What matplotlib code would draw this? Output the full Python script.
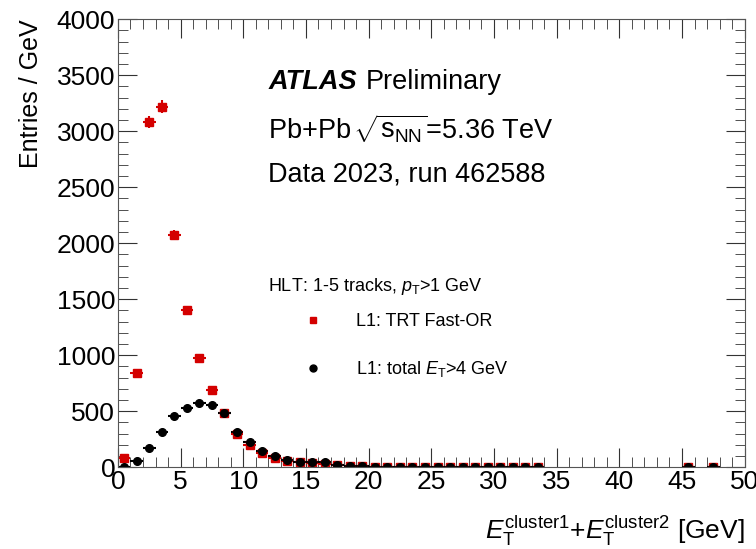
import numpy as np
import matplotlib
matplotlib.use("Agg")
import matplotlib.pyplot as plt
from matplotlib.lines import Line2D
from matplotlib.ticker import MultipleLocator

plt.rcParams['font.family'] = ['Liberation Sans', 'DejaVu Sans']
plt.rcParams['mathtext.fontset'] = 'custom'
plt.rcParams['mathtext.rm'] = 'Liberation Sans'
plt.rcParams['mathtext.it'] = 'Liberation Sans:italic'
plt.rcParams['mathtext.bf'] = 'Liberation Sans:bold'

# bin centres [GeV], 1 GeV bins
bins_main = np.arange(0.5, 34.0, 1.0)
bins_tail = [45.5, 47.5]

trt_main = [80, 845, 3080, 3220, 2070, 1405, 976, 690, 488, 292,
            202, 128, 83, 56, 45, 38, 30, 18, 13, 8,
            6, 5, 4, 4, 3, 3, 3, 2, 2, 2,
            2, 2, 2, 2]
tot_main = [3, 56, 170, 315, 455, 530, 575, 556, 488, 318,
            226, 149, 98, 65, 48, 45, 42, 21, 15, 9,
            6, 5, 4, 4, 3, 3, 3, 2, 2, 2,
            2, 2, 2, 2]
trt_tail = [1, 1]
tot_tail = [1, 1]

x = np.concatenate([bins_main, bins_tail])
y_trt = np.array(trt_main + trt_tail, dtype=float)
y_tot = np.array(tot_main + tot_tail, dtype=float)

red = '#d40000'

fig = plt.figure(figsize=(7.56, 5.49), dpi=100)
ax = fig.add_axes([0.156, 0.149, 0.829, 0.816])

ax.errorbar(x, y_trt, xerr=0.5, yerr=np.sqrt(y_trt), fmt='s', color=red,
            ms=5.5, elinewidth=1.5, capsize=0)
ax.errorbar(x, y_tot, xerr=0.5, yerr=np.sqrt(y_tot), fmt='o', color='black',
            ms=5.5, elinewidth=1.5, capsize=0)

ax.set_xlim(0, 50)
ax.set_ylim(0, 4000)
ax.xaxis.set_major_locator(MultipleLocator(5))
ax.xaxis.set_minor_locator(MultipleLocator(1))
ax.yaxis.set_major_locator(MultipleLocator(500))
ax.yaxis.set_minor_locator(MultipleLocator(100))
ax.tick_params(which='both', direction='in', top=True, right=True,
               labelsize=19, color='#333333', pad=2)
ax.tick_params(which='major', length=14)
ax.tick_params(which='minor', length=7)
for s in ax.spines.values():
    s.set_color('#555555')

ax.set_ylabel('Entries / GeV', fontsize=18, loc='top', labelpad=10)
ax.set_xlabel(r'$E_{\mathrm{T}}^{\mathrm{cluster1}}$+$E_{\mathrm{T}}^{\mathrm{cluster2}}$ [GeV]',
              fontsize=19, loc='right', labelpad=14)

ax.text(0.24, 0.86, 'ATLAS', transform=ax.transAxes, fontsize=19.5,
        fontweight='bold', fontstyle='italic', va='center')
ax.text(0.395, 0.86, 'Preliminary', transform=ax.transAxes, fontsize=19.5, va='center')
ax.text(0.24, 0.755, r'Pb+Pb$\,\sqrt{\mathrm{s}_{\mathrm{NN}}}$=5.36 TeV',
        transform=ax.transAxes, fontsize=19.5, va='center')
ax.text(0.24, 0.654, 'Data 2023, run 462588', transform=ax.transAxes,
        fontsize=19.5, va='center')
ax.text(0.24, 0.404, r'HLT: 1-5 tracks, $p_{\mathrm{T}}$>1 GeV',
        transform=ax.transAxes, fontsize=13, va='center')

handles = [Line2D([], [], marker='s', ls='none', color=red, ms=5),
           Line2D([], [], marker='o', ls='none', color='black', ms=5)]
labels = ['L1: TRT Fast-OR', r'L1: total $E_{\mathrm{T}}$>4 GeV']
ax.legend(handles, labels, loc='center left', bbox_to_anchor=(0.297, 0.27),
          frameon=False, fontsize=13, handletextpad=1.9, labelspacing=1.6,
          borderpad=0, borderaxespad=0, handlelength=1.0)

fig.savefig('out.png', dpi=100)
